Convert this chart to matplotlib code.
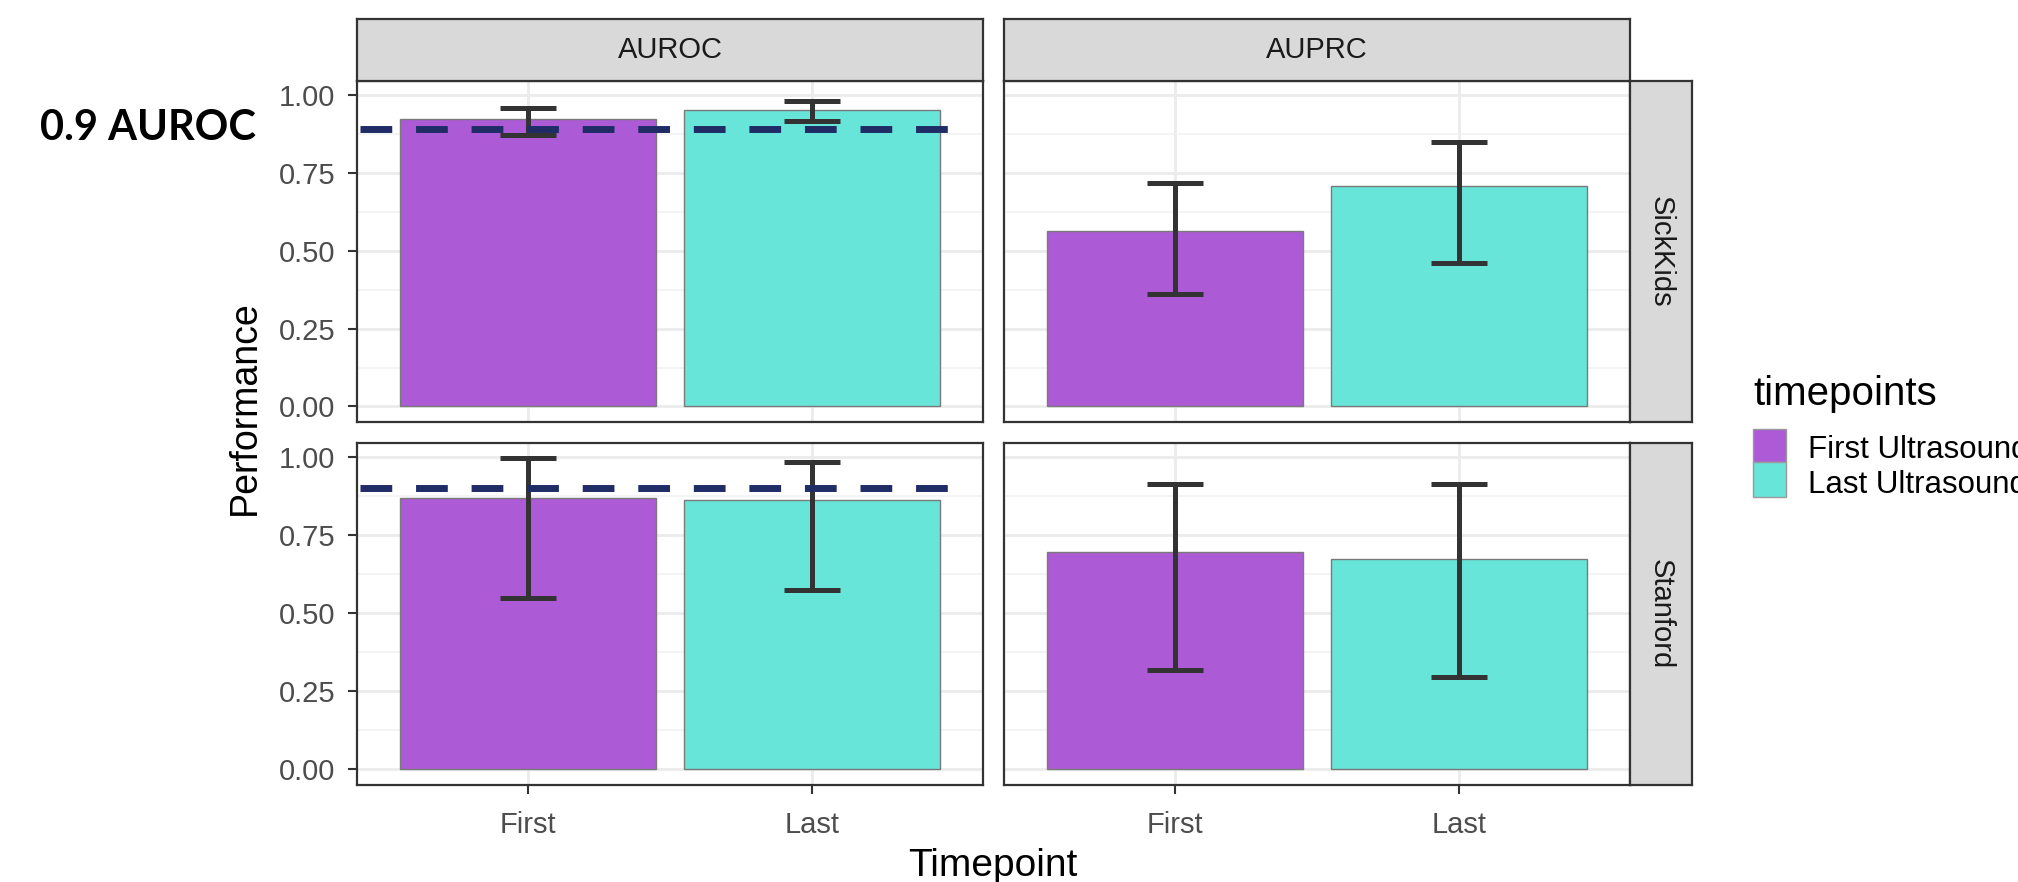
import numpy as np
import matplotlib.pyplot as plt
from matplotlib.patches import Rectangle

plt.rcParams['font.family'] = ['Liberation Sans', 'DejaVu Sans']

# ---- data ----
metrics = ['AUROC', 'AUPRC']
sites = ['SickKids', 'Stanford']
timepoints = ['First', 'Last']
legend_labels = ['First Ultrasound', 'Last Ultrasound']
legend_title = 'timepoints'

sickkids_auroc = [0.924, 0.953]
sickkids_auroc_lo = [0.871, 0.917]
sickkids_auroc_hi = [0.959, 0.981]

sickkids_auprc = [0.563, 0.707]
sickkids_auprc_lo = [0.361, 0.459]
sickkids_auprc_hi = [0.719, 0.849]

stanford_auroc = [0.869, 0.863]
stanford_auroc_lo = [0.549, 0.574]
stanford_auroc_hi = [0.998, 0.984]

stanford_auprc = [0.697, 0.674]
stanford_auprc_lo = [0.317, 0.297]
stanford_auprc_hi = [0.915, 0.915]

# reference line drawn on the AUROC panels (one per site row)
ref_auroc = [0.89, 0.90]
ref_label = '0.9 AUROC'

perf = {
    ('SickKids', 'AUROC'): (sickkids_auroc, sickkids_auroc_lo, sickkids_auroc_hi),
    ('SickKids', 'AUPRC'): (sickkids_auprc, sickkids_auprc_lo, sickkids_auprc_hi),
    ('Stanford', 'AUROC'): (stanford_auroc, stanford_auroc_lo, stanford_auroc_hi),
    ('Stanford', 'AUPRC'): (stanford_auprc, stanford_auprc_lo, stanford_auprc_hi),
}

colors = ['#ad5ad6', '#67e5d9']
border = '#333333'
W, H = 2018, 882

fig = plt.figure(figsize=(W / 100, H / 100), dpi=100)


def px_axes(x0, y0, x1, y1):
    return fig.add_axes([x0 / W, 1 - y1 / H, (x1 - x0) / W, (y1 - y0) / H])


cols = [(357, 983), (1004, 1630)]
rows = [(81, 422), (443, 785)]
xpos = np.arange(1, len(timepoints) + 1)

for i, site in enumerate(sites):
    for j, metric in enumerate(metrics):
        ax = px_axes(cols[j][0], rows[i][0], cols[j][1], rows[i][1])
        vals, lo, hi = [np.array(a) for a in perf[(site, metric)]]
        ax.bar(xpos, vals, width=0.9, color=colors, edgecolor='#7a7a7a', lw=1, zorder=2)
        ax.errorbar(xpos, vals, yerr=[vals - lo, hi - vals], fmt='none', ecolor=border,
                    elinewidth=3.6, capsize=20.5, capthick=3.6, zorder=3)
        if metric == 'AUROC':
            ax.plot([0.41, 2.49], [ref_auroc[i]] * 2, color='#1f2c66', lw=5,
                    dashes=(4.57, 3.43), zorder=4)
        ax.set_xlim(0.4, 2.6)
        ax.set_ylim(-0.05, 1.045)
        ax.set_yticks([0, 0.25, 0.5, 0.75, 1.0])
        ax.set_yticks([0.125, 0.375, 0.625, 0.875], minor=True)
        ax.set_xticks(xpos)
        ax.grid(which='major', color='#ebebeb', lw=2)
        ax.grid(which='minor', axis='y', color='#f2f2f2', lw=1.2)
        ax.set_axisbelow(True)
        for s in ax.spines.values():
            s.set_color(border)
            s.set_linewidth(1.6)
        ax.tick_params(which='minor', length=0)
        ax.tick_params(which='major', length=6.5, width=1.5, color=border,
                       labelsize=21, labelcolor='#4d4d4d')
        ax.tick_params(axis='y', pad=9)
        ax.tick_params(axis='x', pad=12)
        if j == 0:
            ax.set_yticklabels(['0.00', '0.25', '0.50', '0.75', '1.00'])
        else:
            ax.tick_params(axis='y', left=False, labelleft=False)
        if i == len(sites) - 1:
            ax.set_xticklabels(timepoints)
        else:
            ax.tick_params(axis='x', bottom=False, labelbottom=False)

# facet strips
for j, metric in enumerate(metrics):
    sa = px_axes(cols[j][0], 19, cols[j][1], 81)
    sa.set_facecolor('#d9d9d9')
    sa.set_xticks([]); sa.set_yticks([])
    for s in sa.spines.values():
        s.set_color(border); s.set_linewidth(1.6)
    sa.text(0.5, 0.5, metric, ha='center', va='center', size=21, color='#1a1a1a',
            transform=sa.transAxes)

for i, site in enumerate(sites):
    sa = px_axes(1630, rows[i][0], 1692, rows[i][1])
    sa.set_facecolor('#d9d9d9')
    sa.set_xticks([]); sa.set_yticks([])
    for s in sa.spines.values():
        s.set_color(border); s.set_linewidth(1.6)
    sa.text(0.5, 0.5, site, ha='center', va='center', size=21, color='#1a1a1a',
            rotation=270, transform=sa.transAxes)

# axis titles
fig.text(245 / W, 1 - 408 / H, 'Performance', rotation=90, ha='center', va='center', size=27)
fig.text(993 / W, 1 - 876 / H, 'Timepoint', ha='center', va='baseline', size=28)

# annotation
fig.text(40 / W, 1 - 140 / H, ref_label, ha='left', va='baseline', size=30,
         fontfamily='Lato', fontweight='bold')

# legend
fig.text(1753 / W, 1 - 405 / H, legend_title, ha='left', va='baseline', size=29)
key_top = [429, 462]
key_bot = [462, 497]
for k, lab in enumerate(legend_labels):
    fig.patches.append(Rectangle((1753 / W, 1 - key_bot[k] / H), 33 / W,
                                 (key_bot[k] - key_top[k]) / H, transform=fig.transFigure,
                                 facecolor=colors[k], edgecolor='#9a9a9a', lw=1))
    fig.text(1808 / W, 1 - (key_bot[k] - 4) / H, lab, ha='left', va='baseline', size=22.5)

fig.savefig('out.png', dpi=100)
